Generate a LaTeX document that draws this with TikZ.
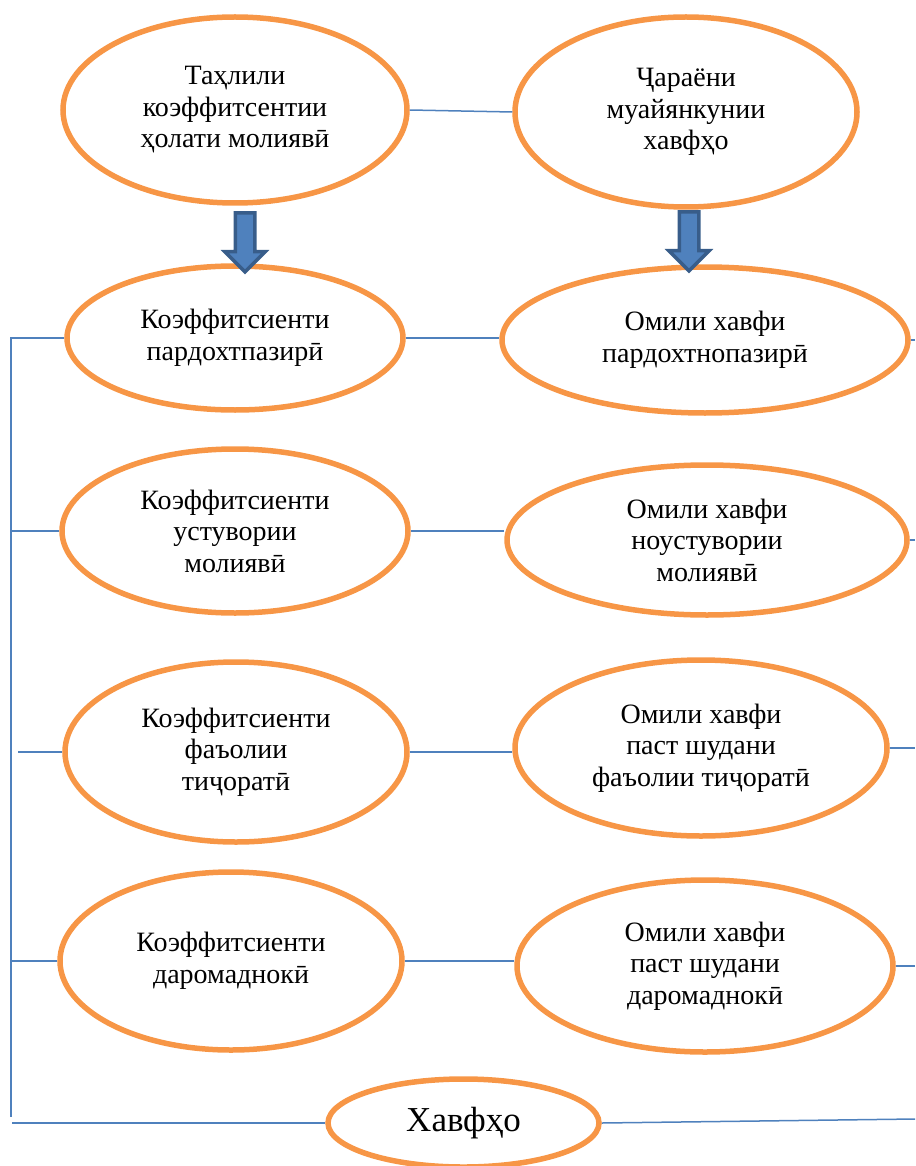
\documentclass[tikz,border=0pt]{standalone}
\usepackage{fontspec}
\setmainfont{Liberation Serif}
\usetikzlibrary{shapes.geometric,shapes.arrows}
\definecolor{orng}{HTML}{F79646}
\definecolor{blu}{HTML}{4F81BD}
\definecolor{dblu}{HTML}{385D8A}
\begin{document}
\begin{tikzpicture}[x=1pt,y=-1pt,
  oval/.style={ellipse, draw=orng, line width=5.5pt, inner sep=0pt, align=center,
    font=\fontsize{28}{31.5}\selectfont},
  link/.style={draw=blu, line width=1.5pt},
  downarrow/.style={single arrow, draw=dblu, fill=blu, line width=3.5pt,
    inner sep=8pt, single arrow head extend=10.5pt, minimum height=59pt,
    single arrow tip angle=90, rotate=-90}]
\useasboundingbox (0,0) rectangle (915,1166);
% top row
\node[oval, minimum width=344pt, minimum height=186pt] (tl) at (235,110)
  {Таҳлили\\коэффитсентии\\ҳолати молиявӣ};
\node[oval, minimum width=342pt, minimum height=190pt] (tr) at (686,112)
  {Ҷараёни\\муайянкунии\\хавфҳо};
% row 1
\node[oval, minimum width=336pt, minimum height=144pt] (l1) at (235,338)
  {Коэффитсиенти\\пардохтпазирӣ};
\node[oval, minimum width=406pt, minimum height=146pt] (r1) at (705,340)
  {Омили хавфи\\пардохтнопазирӣ};
% row 2
\node[oval, minimum width=346pt, minimum height=164pt] (l2) at (235,531)
  {Коэффитсиенти\\устувории\\молиявӣ};
\node[oval, minimum width=400pt, minimum height=150pt] (r2) at (707,540)
  {Омили хавфи\\ноустувории\\молиявӣ};
% row 3
\node[oval, minimum width=342pt, minimum height=180pt] (l3) at (236,752)
  {Коэффитсиенти\\фаъолии\\тиҷоратӣ};
\node[oval, minimum width=372pt, minimum height=176pt] (r3) at (701,748)
  {Омили хавфи\\паст шудани\\фаъолии тиҷоратӣ};
% row 4
\node[oval, minimum width=342pt, minimum height=178pt] (l4) at (231,961)
  {Коэффитсиенти\\даромаднокӣ};
\node[oval, minimum width=376pt, minimum height=172pt] (r4) at (705,966)
  {Омили хавфи\\паст шудани\\даромаднокӣ};
% bottom
\node[oval, minimum width=271pt, minimum height=88pt,
  font=\fontsize{35}{40}\selectfont] (h) at (463.5,1123) {Хавфҳо};
% arrows
\node[downarrow] (ar1) at (245,237.5) {};
\node[downarrow] (ar2) at (689,236.5) {};
% connectors between columns
\draw[link] (tl.east) -- (tr.west);
\draw[link] (l1.east) -- (l1.east -| r1.west);
\draw[link] (l2.east) -- (l2.east -| r2.west);
\draw[link] (l3.east) -- (l3.east -| r3.west);
\draw[link] (l4.east) -- (l4.east -| r4.west);
% right edge stubs
\coordinate (e1) at (915,337);
\coordinate (e2) at (915,541);
\coordinate (e3) at (915,745);
\coordinate (e4) at (915,966);
\draw[link] (r1.east) -- (r1.east -| e1);
\draw[link] (r2.east) -- (r2.east -| e2);
\draw[link] (r3.east) -- (r3.east -| e3);
\draw[link] (r4.east) -- (r4.east -| e4);
% left bus
\coordinate (bt) at (11,337);
\coordinate (bb) at (11,1117);
\draw[link] (bt) -- (bb);
\coordinate (a1) at (12,337);
\coordinate (a2) at (11,531);
\coordinate (a3) at (18,752);
\coordinate (a4) at (11,961);
\draw[link] (a1 |- l1.west) -- (l1.west);
\draw[link] (a2 |- l2.west) -- (l2.west);
\draw[link] (a3 |- l3.west) -- (l3.west);
\draw[link] (a4 |- l4.west) -- (l4.west);
% bottom line
\coordinate (b0) at (12,1123);
\coordinate (bE) at (915,1119);
\draw[link] (b0 |- h.west) -- (h.west);
\draw[link] (h.east) -- (bE);
\end{tikzpicture}
\end{document}
